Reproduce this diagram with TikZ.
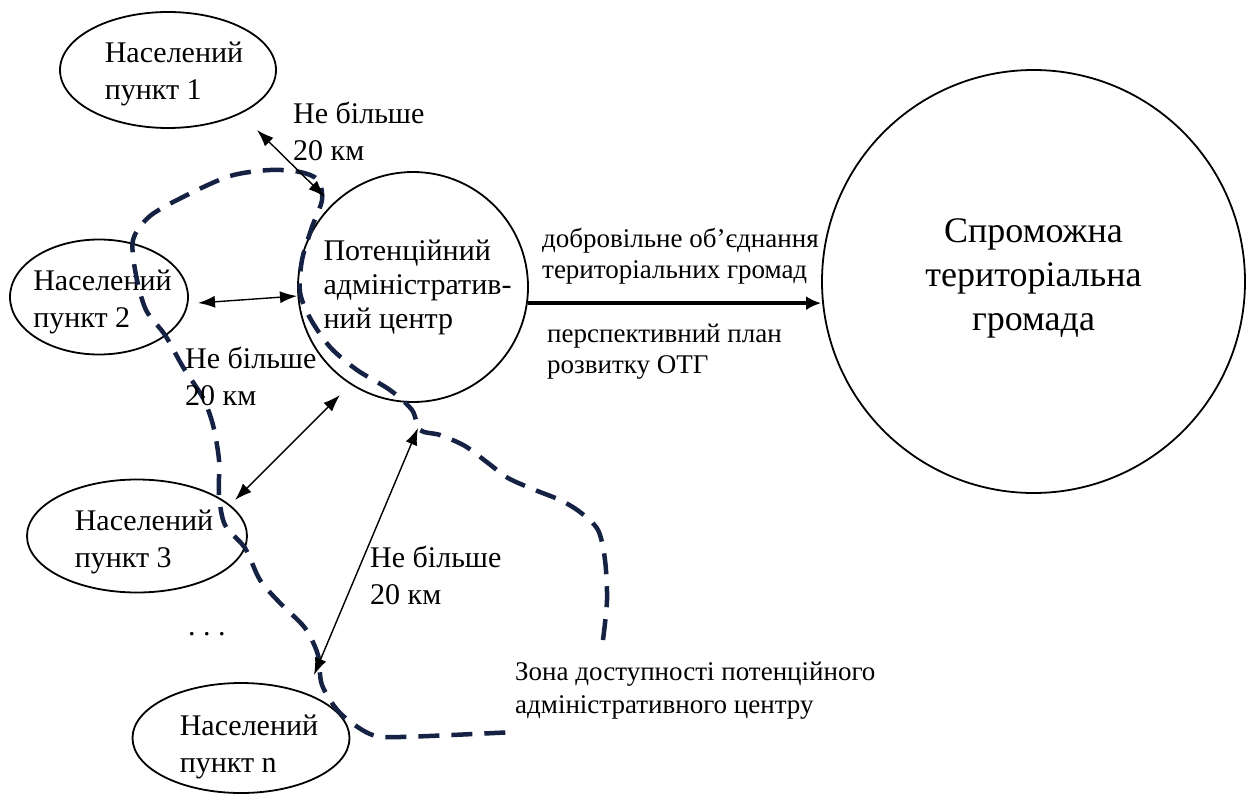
\documentclass[tikz,border=0pt]{standalone}
\usepackage{fontspec}
\setmainfont{Liberation Serif}
\usetikzlibrary{shapes.geometric,arrows.meta}
\definecolor{zonecol}{RGB}{22,34,68}
\newcommand\mylines[2][l]{\begin{tabular}[t]{@{}#1@{}}#2\end{tabular}}
% text block inside a shape: #2 = right shift, #3 = height of first baseline above centre
\newcommand\inboxat[4][l]{\makebox[0pt]{\hspace*{#2}\raisebox{#3}[0pt][0pt]{\begin{tabular}[t]{@{}#1@{}}#4\end{tabular}}\hspace*{-#2}}}
\begin{document}
\begin{tikzpicture}[x=1pt,y=-1pt,
  place/.style={ellipse,draw,line width=1.8pt,inner sep=0pt,font=\fontsize{30}{37}\selectfont},
  ring/.style={circle,draw,line width=1.8pt,inner sep=0pt},
  lbl/.style={inner sep=0pt,anchor=base west,font=\fontsize{30}{37}\selectfont},
  small/.style={inner sep=0pt,anchor=base west,font=\fontsize{27}{31}\selectfont},
  conn/.style={line width=1.4pt,{Latex[length=17pt,width=12pt]}-{Latex[length=17pt,width=12pt]}},
  main/.style={line width=4pt,-{Latex[length=15pt,width=14pt]}},
  zone/.style={draw=zonecol,line width=4.5pt,dash pattern=on 21pt off 12pt}]
\useasboundingbox (0,0) rectangle (1252,795);
\fill[white] (0,0) rectangle (1252,795);

% settlements
\node[place,minimum width=216pt,minimum height=116pt] (e1) at (168,70) {\inboxat{6pt}{8pt}{Населений\\пункт 1}};
\node[place,minimum width=178pt,minimum height=115pt] (e2) at (99,297) {\inboxat{3.5pt}{7pt}{Населений\\пункт 2}};
\node[place,minimum width=220pt,minimum height=113pt] (e3) at (137,536) {\inboxat{7pt}{6pt}{Населений\\пункт 3}};
\node[place,minimum width=217pt,minimum height=110pt] (en) at (241,738) {\inboxat{8pt}{3pt}{Населений\\пункт n}};

% centres
\node[ring,minimum size=230pt,font=\fontsize{30}{34}\selectfont] (c) at (413,287) {\inboxat{4.5pt}{27pt}{Потенційний\\адміністратив-\\ний центр}};
\node[ring,minimum size=423pt,font=\fontsize{36}{44}\selectfont] (big) at (1033.5,281.5) {\inboxat[c]{0pt}{39.5pt}{Спроможна\\територіальна\\громада}};

% zone of accessibility
\draw[zone] plot[smooth,tension=0.5] coordinates {
 (603,640) (607,600) (605,560) (598,530) (580,512) (560,500) (535,490) (508,478)
 (488,463) (465,446) (440,435) (420,430) (412,410) (390,390) (357,370) (330,347)
 (310,318) (300,292) (302,260) (312,227) (322,200) (318,180) (300,172) (270,170)
 (230,176) (185,196) (150,216) (133,240) (136,275) (146,310) (165,335) (183,367)
 (203,398) (213,425) (219,460) (219,495) (225,525) (245,548) (260,580) (280,603)
 (305,628) (318,655) (322,685) (340,713) (370,734) (400,737) (515,732)};

% distance arrows
\coordinate (a1s) at (257,130); \coordinate (a1e) at (325,197);
\coordinate (a2s) at (198,303); \coordinate (a2e) at (297,296);
\coordinate (a3s) at (235,500); \coordinate (a3e) at (340,395);
\coordinate (a4s) at (314,675); \coordinate (a4e) at (418,428);
\draw[conn] (a1s) -- (a1e);
\draw[conn] (a2s) -- (a2e);
\draw[conn] (a3s) -- (a3e);
\draw[conn] (a4s) -- (a4e);

\node[lbl] (d1) at (293,123) {\mylines{Не більше\\20 км}};
\node[lbl] (d2) at (185,368) {\mylines{Не більше\\20 км}};
\node[lbl] (d3) at (370,567) {\mylines{Не більше\\20 км}};
\node[lbl] (dots) at (188,635) {.~.~.};

% main arrow
\draw[main] (c.-8) -- (c.-8 -| big.west);
\node[small] (up) at (542,247) {\mylines{добровільне об’єднання\\територіальних громад}};
\node[small] (down) at (547,342) {\mylines{перспективний план\\розвитку ОТГ}};

\node[small,font=\fontsize{27}{33}\selectfont] (zl) at (515,680) {\mylines{Зона доступності потенційного\\адміністративного центру}};
\end{tikzpicture}
\end{document}
